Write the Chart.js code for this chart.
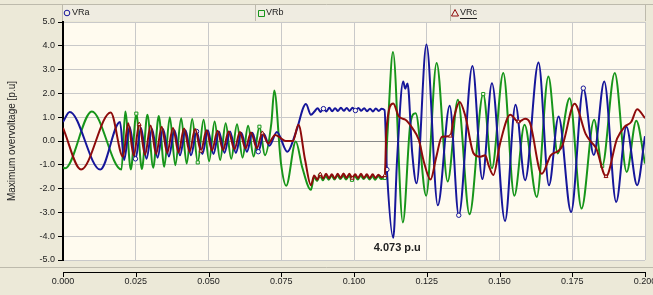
<!DOCTYPE html>
<html>
<head>
<meta charset="utf-8">
<script src="https://cdn.jsdelivr.net/npm/chart.js@4.4.1/dist/chart.umd.min.js"></script>
<style>
  html, body { margin: 0; padding: 0; background: #ECE9D8; }
  #wrap { width: 653px; height: 295px; }
</style>
</head>
<body>
<div id="wrap"><canvas id="chart" width="653" height="295"></canvas></div>
<script>
// series names, axis ticks
const seriesNames = ["VRa", "VRb", "VRc"];
const xTickMs = [0, 25, 50, 75, 100, 125, 150, 175, 200];
const yTickVals = [-5, -4, -3, -2, -1, 0, 1, 2, 3, 4, 5];
const peakLabel = "4.073 p.u";
const peakAt = [113.5, -4.07];

// VRa (time in ms, voltage in p.u)
const vraTime = [0, 2.3, 12.8, 19.6,
  21.0, 22.9, 24.9, 26.8, 28.7, 30.6, 32.5, 34.4, 36.4, 38.3, 40.2, 42.1, 44.0, 45.9, 47.9, 49.8, 51.7, 53.6, 55.5, 57.4, 59.4, 61.3, 63.2, 65.1, 67.1, 69.0,
  70.9, 73.5, 77.1, 80.0, 83.5, 85.2,
  86.5, 87.5, 88.5, 89.5, 90.5, 91.5, 92.5, 93.5, 94.5, 95.5, 96.5, 97.5, 98.5, 99.5, 100.5, 101.5, 102.5, 103.5, 104.5, 105.5, 106.5, 107.5, 108.5, 109.5, 110.5,
  111.3, 113.5, 114.8, 116.9, 117.6, 118.4, 120.0, 121.5, 124.9, 128.8, 132.9, 136.0, 140.7, 144.1, 147.4, 151.9, 155.5, 158.8, 163.4, 167.0, 170.3, 174.6, 178.8, 182.4, 186.0, 190.1, 193.6, 197.3, 200];
const vraVolt = [0.8, 1.22, -1.2, 0.8,
  -0.8, 0.6, -0.75, 0.55, -0.75, 0.5, -0.7, 0.5, -0.65, 0.45, -0.6, 0.45, -0.6, 0.4, -0.55, 0.45, -0.55, 0.4, -0.5, 0.4, -0.5, 0.35, -0.45, 0.35, -0.45, 0.3,
  -0.2, 0.38, -0.45, 0.35, 1.55, 1.1,
  1.25, 1.38, 1.22, 1.36, 1.24, 1.4, 1.25, 1.38, 1.26, 1.4, 1.27, 1.39, 1.26, 1.4, 1.28, 1.39, 1.27, 1.38, 1.25, 1.36, 1.24, 1.37, 1.26, 1.35, 1.3,
  -1.2, -4.07, -0.8, 2.5, 2.2, 2.42, -0.5, -1.78, 4.05, -2.7, 1.48, -3.12, 3.15, -1.6, 2.43, -3.36, 1.52, -1.65, 3.3, -1.86, 1.03, -2.98, 2.22, -0.59, 2.5, -2.56, 0.6, -1.86, 0.2];

// VRb
const vrbTime = [0, 0.7, 9.9, 20.1,
  21.4, 23.3, 25.2, 27.1, 29.0, 31.0, 32.9, 34.8, 36.7, 38.6, 40.6, 42.5, 44.4, 46.3, 48.3, 50.2, 52.1, 54.0, 55.9, 57.8, 59.8, 61.7, 63.6, 65.5, 67.5, 69.4,
  71.6, 72.6, 74.9, 76.7, 80.0, 82.2, 85.2, 86.3,
  87.3, 88.3, 89.3, 90.3, 91.3, 92.3, 93.3, 94.3, 95.3, 96.3, 97.3, 98.3, 99.3, 100.3, 101.3, 102.3, 103.3, 104.3, 105.3, 106.3, 107.3, 108.3, 109.3, 110.6,
  111.5, 113.4, 116.8, 119.4, 121.2, 124.8, 128.4, 132.2, 135.7, 139.7, 144.4, 147.4, 151.3, 155.1, 158.6, 162.8, 166.8, 170.0, 174.1, 178.2, 182.5, 185.3, 189.6, 193.7, 197.0, 200];
const vrbVolt = [-1.1, -1.15, 1.24, -1.2,
  1.24, -1.2, 1.15, -1.18, 1.1, -1.12, 1.05, -1.08, 1.0, -1.02, 0.96, -0.95, 0.92, -0.9, 0.89, -0.85, 0.82, -0.8, 0.75, -0.75, 0.7, -0.7, 0.64, -0.65, 0.6, -0.6,
  0.75, 2.12, -0.93, -1.88, -0.02, -1.1, -2.05, -1.5,
  -1.68, -1.45, -1.65, -1.47, -1.63, -1.45, -1.62, -1.44, -1.6, -1.45, -1.62, -1.46, -1.63, -1.47, -1.62, -1.45, -1.6, -1.46, -1.62, -1.48, -1.63, -1.47, -1.6, -1.55,
  0.3, 3.74, -3.42, 0.76, 1.17, -2.3, 3.28, -1.7, 1.73, -3.08, 1.97, -1.15, 2.86, -2.3, 0.68, -2.35, 2.71, -0.52, 1.8, -2.84, 0.89, -1.05, 2.86, -1.3, 0.85, -0.95];

// VRc
const vrcTime = [0, 6.2, 16.4,
  20.6, 22.4, 24.3, 26.2, 28.2, 30.1, 32.0, 33.9, 35.8, 37.8, 39.7, 41.6, 43.5, 45.4, 47.4, 49.3, 51.2, 53.1, 55.0, 56.9, 58.9, 60.8, 62.7, 64.6, 66.6, 68.5,
  70.5, 72.9, 74.5, 76.5, 79.0, 80.9, 83.2, 85.2, 86.3,
  87.4, 88.4, 89.4, 90.4, 91.4, 92.4, 93.4, 94.4, 95.4, 96.4, 97.4, 98.4, 99.4, 100.4, 101.4, 102.4, 103.4, 104.4, 105.4, 106.4, 107.4, 108.4, 109.4, 110.6,
  111.1, 113.5, 115.4, 117.7, 120.0, 122.3, 124.0, 126.3, 128.3, 130.2, 133.1, 134.2, 136.3, 138.3, 141.1, 143.4, 145.1, 146.2, 147.9, 150.2,
  153.7, 156.5, 158.8, 160.5, 164.5, 167.6, 170.2, 171.6, 175.8, 179.6, 181.2, 183.2, 186.6, 190.4, 193.0, 195.3, 197.3, 200];
const vrcVolt = [0.55, -1.2, 1.2,
  -0.66, 0.75, -0.62, 0.7, -0.58, 0.65, -0.55, 0.6, -0.5, 0.55, -0.48, 0.52, -0.45, 0.5, -0.42, 0.45, -0.4, 0.43, -0.38, 0.4, -0.35, 0.38, -0.32, 0.36, -0.3, 0.33,
  -0.1, 0.25, 0.15, 0.0, 0.0, 0.68, -0.8, -1.86, -1.45,
  -1.62, -1.4, -1.58, -1.38, -1.56, -1.4, -1.58, -1.38, -1.55, -1.37, -1.55, -1.38, -1.56, -1.4, -1.55, -1.38, -1.55, -1.4, -1.56, -1.4, -1.55, -1.42, -1.52, -1.45,
  0.4, 1.58, 1.03, 0.89, 0.55, 0.04, -0.87, -1.62, -0.66, 0.18, 0.21, 0.9, 1.64, 1.03, -0.52, -0.66, -0.6, -1.0, -1.43, -0.1,
  1.1, 0.81, 0.93, 0.75, -1.38, -0.6, -0.42, -0.2, 1.56, 0.3, 0.0, -0.3, -1.49, 0.1, 0.6, 0.81, 1.33, 0.96];

const colors = ["#16169a", "#17951a", "#8e0b0b"];
const markers = ["circle", "rect", "triangle"];
const cream = "#FFFBEF";
const font = '"Liberation Sans", Arial, sans-serif';

function pts(t, v) {
  return t.map((x, i) => ({ x: x, y: v[i] }));
}

function makeSet(i, t, v, order) {
  return {
    label: seriesNames[i],
    data: pts(t, v),
    borderColor: colors[i],
    borderWidth: 2,
    pointStyle: markers[i],
    pointRadius: (c) => (c.dataIndex % 11 === 6 ? 2.2 : 0),
    pointBorderWidth: 1,
    pointBorderColor: colors[i],
    pointBackgroundColor: cream,
    cubicInterpolationMode: "monotone",
    order: order,
  };
}

const frame = {
  id: "frame",
  beforeDraw(chart) {
    const { ctx, chartArea: a, width } = chart;
    ctx.save();
    ctx.fillStyle = "#ECE9D8";
    ctx.fillRect(0, 0, width, chart.height);
    ctx.fillStyle = "#EFECE1";
    ctx.fillRect(62, 5, 584, 16);
    ctx.fillStyle = cream;
    ctx.fillRect(a.left, a.top, a.right - a.left, a.bottom - a.top);
    ctx.strokeStyle = "#BDBAAC";
    ctx.lineWidth = 1;
    ctx.beginPath();
    ctx.moveTo(0, 4.5); ctx.lineTo(width, 4.5);
    ctx.moveTo(0, 267.5); ctx.lineTo(width, 267.5);
    [62.5, 255.5, 450.5, 645.5].forEach((x) => { ctx.moveTo(x, 5); ctx.lineTo(x, 21); });
    ctx.moveTo(a.right + 0.5, a.top); ctx.lineTo(a.right + 0.5, a.bottom);
    ctx.stroke();
    ctx.restore();
  },
  afterDraw(chart) {
    const { ctx, chartArea: a, scales } = chart;
    ctx.save();
    // separate black x axis line with ticks
    ctx.strokeStyle = "#000";
    ctx.lineWidth = 1;
    ctx.beginPath();
    ctx.moveTo(a.left, 272.5); ctx.lineTo(a.right + 1, 272.5);
    xTickMs.forEach((t) => {
      const x = Math.round(scales.x.getPixelForValue(t)) + 0.5;
      ctx.moveTo(x, 272); ctx.lineTo(x, 277);
    });
    ctx.stroke();

    // legend strip
    const lx = [67, 261, 455];
    ctx.font = "9px " + font;
    ctx.textBaseline = "middle";
    ctx.textAlign = "left";
    lx.forEach((x, i) => {
      ctx.strokeStyle = colors[i];
      ctx.lineWidth = 1;
      ctx.beginPath();
      if (i === 0) ctx.arc(x, 13, 2.8, 0, Math.PI * 2);
      if (i === 1) ctx.rect(x - 2.5, 10.5, 6, 6);
      if (i === 2) { ctx.moveTo(x, 9.5); ctx.lineTo(x + 3.5, 16); ctx.lineTo(x - 3.5, 16); ctx.closePath(); }
      ctx.stroke();
      ctx.fillStyle = "#222";
      ctx.fillText(seriesNames[i], x + 5, 13);
    });
    const w = ctx.measureText(seriesNames[2]).width;
    ctx.fillRect(lx[2] + 5, 18, w, 1);

    // min value label
    ctx.font = "bold 11px " + font;
    ctx.textAlign = "center";
    ctx.fillStyle = "#222";
    ctx.fillText(peakLabel, scales.x.getPixelForValue(peakAt[0]) + 4, scales.y.getPixelForValue(peakAt[1]) + 10);
    ctx.restore();
  },
};

new Chart(document.getElementById("chart"), {
  type: "line",
  data: {
    datasets: [
      makeSet(0, vraTime, vraVolt, 1),
      makeSet(1, vrbTime, vrbVolt, 2),
      makeSet(2, vrcTime, vrcVolt, 0),
    ],
  },
  options: {
    responsive: false,
    animation: false,
    events: [],
    layout: { padding: { top: 22, right: 8, left: 0, bottom: 0 } },
    plugins: { legend: { display: false }, tooltip: { enabled: false } },
    scales: {
      x: {
        type: "linear",
        min: 0,
        max: 200,
        afterFit: (s) => { s.height = 35; s.paddingLeft = 0; s.paddingRight = 0; },
        afterBuildTicks: (s) => { s.ticks = xTickMs.map((v) => ({ value: v })); },
        ticks: {
          padding: 16,
          maxRotation: 0,
          color: "#222",
          font: { size: 9, family: font },
          callback: (v) => (v / 1000).toFixed(3),
        },
        grid: { color: "#C9C9C9", drawTicks: false },
        border: { display: false },
      },
      y: {
        min: -5,
        max: 5,
        afterFit: (s) => { s.width = 63; },
        afterBuildTicks: (s) => { s.ticks = yTickVals.map((v) => ({ value: v })); },
        ticks: {
          padding: 3,
          color: "#222",
          font: { size: 9, family: font },
          callback: (v) => v.toFixed(1),
        },
        grid: {
          color: (c) => (c.tick && c.tick.value === 0 ? "#8A8A8A" : "#C9C9C9"),
          tickColor: "#000",
          tickLength: 5,
        },
        border: { color: "#000", width: 2 },
        title: {
          display: true,
          text: "Maximum overvoltage [p.u]",
          color: "#222",
          font: { size: 10, family: font },
          padding: { top: 6, bottom: 0 },
        },
      },
    },
  },
  plugins: [frame],
});
</script>
</body>
</html>
